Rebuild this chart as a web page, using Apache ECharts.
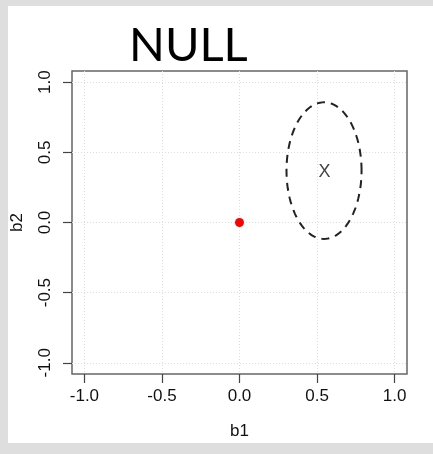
<!DOCTYPE html>
<html>
<head>
<meta charset="utf-8">
<script src="https://cdn.jsdelivr.net/npm/echarts@6/dist/echarts.min.js"></script>
<style>
  html, body { margin: 0; padding: 0; background: #dedede; }
  #chart { width: 433px; height: 454px; }
</style>
</head>
<body>
<div id="chart"></div>
<script>
// tick values on both axes
var tickValues = [-1.0, -0.5, 0.0, 0.5, 1.0]
// the observed point
var pointData = [[0, 0]]
// ellipse: centre x, centre y, half-width, half-height
var ellipseData = [[0.545, 0.37, 0.242, 0.487]]
// position of the "X" marker
var markData = [[0.548, 0.36]]

var chart = echarts.init(document.getElementById('chart'))

var axisCommon = {
  type: 'value',
  min: -1.08,
  max: 1.08,
  axisLine: { show: false, onZero: false },
  axisTick: {
    show: true, inside: false, length: 9,
    customValues: tickValues,
    lineStyle: { color: '#444', width: 1.2 }
  },
  axisLabel: {
    customValues: tickValues,
    formatter: function (v) { return v.toFixed(1) },
    color: '#111',
    fontSize: 17,
    fontFamily: 'Liberation Sans',
    margin: 14
  },
  splitLine: {
    show: true,
    lineStyle: { color: '#ddd', type: [1, 2], width: 1 }
  },
  nameLocation: 'middle',
  nameTextStyle: { color: '#111', fontSize: 17, fontFamily: 'Liberation Sans' }
}

var option = {
  animation: false,
  backgroundColor: 'transparent',
  graphic: [{
    type: 'rect',
    z: -10,
    shape: { x: 8, y: 6, width: 425, height: 437 },
    style: { fill: '#fff' }
  }],
  title: {
    text: 'NULL',
    left: 124,
    top: 17,
    textStyle: { fontFamily: 'Lato', fontSize: 47, fontWeight: 'normal', color: '#000' }
  },
  grid: {
    left: 72, top: 71, width: 335, height: 303,
    containLabel: false, outerBoundsMode: 'none',
    show: true, borderColor: '#666', borderWidth: 1.5, backgroundColor: 'transparent'
  },
  xAxis: Object.assign({}, axisCommon, { name: 'b1', nameGap: 49 }),
  yAxis: Object.assign({}, axisCommon, {
    name: 'b2', nameGap: 46, nameRotate: 90,
    axisLabel: Object.assign({}, axisCommon.axisLabel, { rotate: 90, margin: 18 })
  }),
  series: [
    {
      type: 'custom',
      data: ellipseData,
      renderItem: function (params, api) {
        var cx = api.value(0), cy = api.value(1), rx = api.value(2), ry = api.value(3)
        var pts = []
        for (var i = 0; i <= 120; i++) {
          var t = i / 120 * Math.PI * 2
          pts.push(api.coord([cx + rx * Math.cos(t), cy + ry * Math.sin(t)]))
        }
        return {
          type: 'polyline',
          shape: { points: pts },
          style: { stroke: '#222', lineWidth: 2, lineDash: [8, 6], fill: null }
        }
      }
    },
    {
      type: 'scatter',
      data: pointData,
      symbolSize: 9,
      itemStyle: { color: '#f00', opacity: 1 }
    },
    {
      type: 'scatter',
      data: markData,
      symbolSize: 1,
      itemStyle: { color: 'transparent' },
      label: {
        show: true, position: 'inside', formatter: 'X',
        color: '#111', fontSize: 18, fontFamily: 'Liberation Sans'
      }
    }
  ]
}

chart.setOption(option)
</script>
</body>
</html>
